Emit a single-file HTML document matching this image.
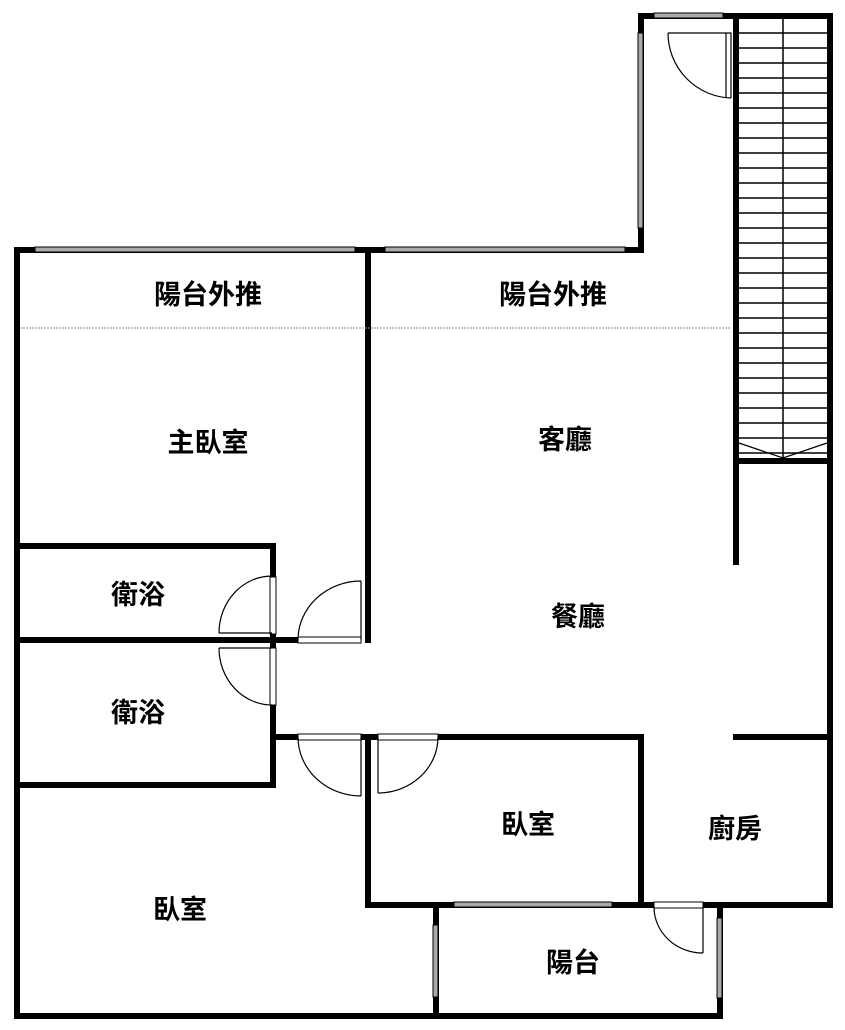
<!DOCTYPE html>
<html><head><meta charset="utf-8"><style>
html,body{margin:0;padding:0;background:#fff;}
svg{display:block}
text{font-family:"Liberation Sans","Noto Sans CJK TC",sans-serif;font-weight:bold;font-size:27px;text-anchor:middle;dominant-baseline:central;fill:#000}
</style></head><body>
<svg width="845" height="1030" viewBox="0 0 845 1030">
<g stroke="#000" stroke-width="6" fill="none" stroke-linecap="square">
<path d="M641 16 H830 V905"/>
<path d="M641 16 V250 H17 V1016 H720 V905 H641"/>
<path d="M736 16 V461"/>
<path d="M736 461 H830"/>
<path d="M736 461 V562"/>
<path d="M368 250 V640"/>
<path d="M17 546 H273 V578"/>
<path d="M17 640 H298"/>
<path d="M273 633 V648"/>
<path d="M273 705 V785 H17"/>
<path d="M273 737 H298"/>
<path d="M361 737 H378"/>
<path d="M438 737 H641 V905"/>
<path d="M368 737 V905 H654"/>
<path d="M703 905 H830"/>
<path d="M736 737 H830"/>
<path d="M436 905 V1016"/>
</g>
<g fill="#aaa" stroke="#000" stroke-width="1">
<rect x="654" y="13" width="69" height="5"/>
<rect x="638" y="33" width="5" height="195"/>
<rect x="35" y="247" width="320" height="5"/>
<rect x="385" y="247" width="240" height="5"/>
<rect x="454" y="902" width="158" height="5"/>
<rect x="433" y="925" width="5" height="72"/>
<rect x="717" y="918" width="5" height="80"/>
</g>
<g fill="#fff" stroke="#000" stroke-width="1">
<rect x="270" y="577" width="6" height="57"/>
<rect x="270" y="648" width="6" height="57"/>
<rect x="298" y="637" width="63" height="6"/>
<rect x="298" y="734" width="63" height="6"/>
<rect x="378" y="734" width="60" height="6"/>
<rect x="654" y="902" width="49" height="6"/>
</g>
<g stroke="#000" stroke-width="1.5">
<line x1="783" y1="19" x2="783" y2="458"/>
<line x1="739" y1="33" x2="827" y2="33"/><line x1="739" y1="48" x2="827" y2="48"/>
<line x1="739" y1="63" x2="827" y2="63"/><line x1="739" y1="78" x2="827" y2="78"/>
<line x1="739" y1="93" x2="827" y2="93"/><line x1="739" y1="108" x2="827" y2="108"/>
<line x1="739" y1="123" x2="827" y2="123"/><line x1="739" y1="138" x2="827" y2="138"/>
<line x1="739" y1="153" x2="827" y2="153"/><line x1="739" y1="168" x2="827" y2="168"/>
<line x1="739" y1="183" x2="827" y2="183"/><line x1="739" y1="198" x2="827" y2="198"/>
<line x1="739" y1="213" x2="827" y2="213"/><line x1="739" y1="228" x2="827" y2="228"/>
<line x1="739" y1="243" x2="827" y2="243"/><line x1="739" y1="258" x2="827" y2="258"/>
<line x1="739" y1="273" x2="827" y2="273"/><line x1="739" y1="288" x2="827" y2="288"/>
<line x1="739" y1="303" x2="827" y2="303"/><line x1="739" y1="318" x2="827" y2="318"/>
<line x1="739" y1="333" x2="827" y2="333"/><line x1="739" y1="348" x2="827" y2="348"/>
<line x1="739" y1="363" x2="827" y2="363"/><line x1="739" y1="378" x2="827" y2="378"/>
<line x1="739" y1="393" x2="827" y2="393"/><line x1="739" y1="408" x2="827" y2="408"/>
<line x1="739" y1="423" x2="827" y2="423"/><line x1="739" y1="438" x2="827" y2="438"/>
<line x1="739" y1="453" x2="827" y2="453"/>
</g>
<polyline points="739,443 783,458 827,443" fill="none" stroke="#000" stroke-width="1.2"/>
<g fill="none" stroke="#000" stroke-width="1.2">
<path d="M668 33 H731 V98 M668 33 A65 65 0 0 0 731 98"/>
<line x1="726" y1="33" x2="726" y2="98"/>
<path d="M219 633 H272 M272 576 A53 57 0 0 0 219 633"/>
<path d="M219 648 H272 M219 648 A53 57 0 0 0 272 705"/>
<path d="M361 581 V640 M361 581 A63 59 0 0 0 298 640"/>
<path d="M361 737 V796 M298 737 A63 59 0 0 0 361 796"/>
<path d="M378 737 V793 M438 737 A60 56 0 0 1 378 793"/>
<path d="M703 907 V953 M654 907 A49 46 0 0 0 703 953"/>
</g>
<line x1="20" y1="328" x2="730" y2="328" stroke="#888" stroke-width="1" stroke-dasharray="2,1"/>
<text x="208" y="295">陽台外推</text>
<text x="553" y="295">陽台外推</text>
<text x="208" y="443">主臥室</text>
<text x="565" y="440">客廳</text>
<text x="138" y="595">衛浴</text>
<text x="138" y="713">衛浴</text>
<text x="578" y="617">餐廳</text>
<text x="528" y="825">臥室</text>
<text x="180" y="910">臥室</text>
<text x="735" y="829">廚房</text>
<text x="573" y="963">陽台</text>
</svg>
</body></html>
